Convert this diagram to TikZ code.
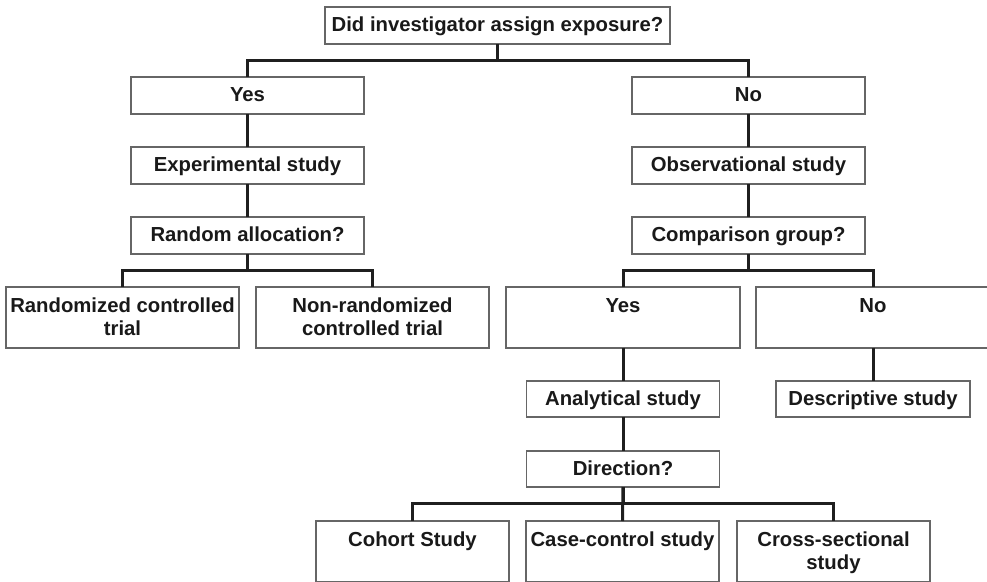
\documentclass[tikz,border=0pt]{standalone}
\usepackage{fontspec}
\setmainfont{Liberation Sans}
\usepackage{tikz}
\usetikzlibrary{positioning}

\begin{document}
\begin{tikzpicture}[
  x=1pt, y=-1pt,
  node distance=33pt and 17pt,
  box/.style={rectangle, draw=black!60, line width=1.2pt, minimum width=233pt, minimum height=37pt, inner sep=0pt, outer sep=0pt, align=center, text=black!90, text height=15pt, text depth=3pt, font=\fontsize{20.3}{23}\selectfont\bfseries},
  tall/.style={box, minimum height=61pt, text height=38pt, text depth=3pt},
  small/.style={box, minimum width=193pt, minimum height=36pt},
  conn/.style={line width=3pt, draw=black!88},
]
  \useasboundingbox (0,0) rectangle (987,581);
  \clip (0,0) rectangle (987,581);

  \node[box, minimum width=345pt] (assign) at (497.5,25.5) {Did investigator assign exposure?};
  \node[box] (yesA) at (247.5,95.5) {Yes};
  \node[box] (noA) at (748.5,95.5) {No};

  \node[box, below=of yesA] (exper) {Experimental study};
  \node[box, below=of exper] (random) {Random allocation?};
  \node[box, below=of noA] (observ) {Observational study};
  \node[box, below=of observ] (compar) {Comparison group?};

  \node[tall] (rct) at (122.5,317.5) {Randomized controlled\\trial};
  \node[tall] (nrct) at (372.5,317.5) {Non-randomized\\controlled trial};
  \node[tall, minimum width=234pt] (yesB) at (623,317.5) {Yes\\\mbox{}};
  \node[tall, minimum width=234pt] (noB) at (873,317.5) {No\\\mbox{}};

  \node[small, below=of yesB] (analyt) {Analytical study};
  \node[small, minimum width=194pt, below=of noB] (descr) {Descriptive study};
  \node[small, below=34pt of analyt] (direct) {Direction?};

  \node[tall, minimum width=193pt] (cohort) at (412.5,551.5) {Cohort Study\\\mbox{}};
  \node[tall, minimum width=193pt] (casectl) at (622.5,551.5) {Case-control study\\\mbox{}};
  \node[tall, minimum width=193pt] (crosss) at (833.5,551.5) {Cross-sectional\\study};

  \draw[conn] (assign.south) -- ++(0,16.5) -| (yesA.north);
  \draw[conn] (assign.south) -- ++(0,16.5) -| (noA.north);
  \draw[conn] (yesA.south) -- (exper.north);
  \draw[conn] (exper.south) -- (random.north);
  \draw[conn] (noA.south) -- (observ.north);
  \draw[conn] (observ.south) -- (compar.north);
  \draw[conn] (random.south) -- ++(0,16.5) -| (rct.north);
  \draw[conn] (random.south) -- ++(0,16.5) -| (nrct.north);
  \draw[conn] (compar.south) -- ++(0,16.5) -| (yesB.north);
  \draw[conn] (compar.south) -- ++(0,16.5) -| (noB.north);
  \draw[conn] (yesB.south) -- (analyt.north);
  \draw[conn] (noB.south) -- (descr.north);
  \draw[conn] (analyt.south) -- (direct.north);
  \draw[conn] (direct.south) -- ++(0,16.5) -| (cohort.north);
  \draw[conn] (direct.south) -- (casectl.north);
  \draw[conn] (direct.south) -- ++(0,16.5) -| (crosss.north);
\end{tikzpicture}
\end{document}
